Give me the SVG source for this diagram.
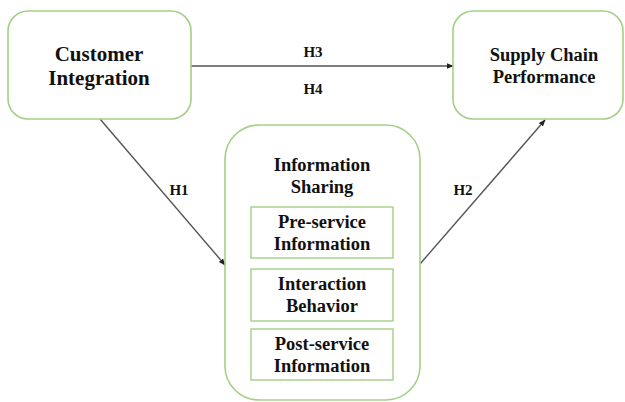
<svg xmlns="http://www.w3.org/2000/svg" width="625" height="402" viewBox="0 0 625 402">
  <style>
    .node { fill: #ffffff; stroke: #a3cf86; stroke-width: 1.6; }
    .inner { fill: #ffffff; stroke: #a3cf86; stroke-width: 1.4; }
    text { font-family: 'Liberation Serif', 'DejaVu Serif', serif; font-weight: bold; fill: #111; text-anchor: middle; }
    .big { font-size: 21px; }
    .mid { font-size: 18.5px; }
    .hyp { font-size: 15px; }
    .edge { stroke: #555; stroke-width: 1.4; fill: none; marker-end: url(#arrow); }
  </style>
  <defs>
    <marker id="arrow" viewBox="0 0 10 10" refX="9" refY="5" markerWidth="7" markerHeight="7" orient="auto" markerUnits="userSpaceOnUse">
      <path d="M0,1 L10,5 L0,9 Z" fill="#222"/>
    </marker>
  </defs>
  <rect width="625" height="402" fill="#ffffff"/>

  <g id="connectors">
    <line class="edge" x1="191" y1="66" x2="453" y2="66"/>
    <line class="edge" x1="100" y1="119" x2="225" y2="265"/>
    <line class="edge" x1="420" y1="264" x2="545" y2="120"/>
    <text class="hyp" x="313" y="57">H3</text>
    <text class="hyp" x="313" y="94">H4</text>
    <text class="hyp" x="179" y="195">H1</text>
    <text class="hyp" x="463" y="195">H2</text>
  </g>

  <g id="customer-integration">
    <rect class="node" x="8" y="11" width="183" height="108" rx="20"/>
    <text class="big" x="99" y="61">Customer</text>
    <text class="big" x="99" y="85">Integration</text>
  </g>

  <g id="supply-chain-performance">
    <rect class="node" x="453" y="11" width="170" height="108" rx="20"/>
    <text class="mid" x="544" y="61">Supply Chain</text>
    <text class="mid" x="544" y="83">Performance</text>
  </g>

  <g id="information-sharing">
    <rect class="node" x="225" y="125" width="195" height="275" rx="34"/>
    <text class="mid" x="322" y="171">Information</text>
    <text class="mid" x="322" y="193">Sharing</text>
  </g>

  <g id="pre-service-information">
    <rect class="inner" x="251" y="207" width="142" height="51"/>
    <text class="mid" x="322" y="228">Pre-service</text>
    <text class="mid" x="322" y="250">Information</text>
  </g>

  <g id="interaction-behavior">
    <rect class="inner" x="251" y="269" width="142" height="52"/>
    <text class="mid" x="322" y="290">Interaction</text>
    <text class="mid" x="322" y="312">Behavior</text>
  </g>

  <g id="post-service-information">
    <rect class="inner" x="251" y="329" width="142" height="51"/>
    <text class="mid" x="322" y="350">Post-service</text>
    <text class="mid" x="322" y="372">Information</text>
  </g>
</svg>
